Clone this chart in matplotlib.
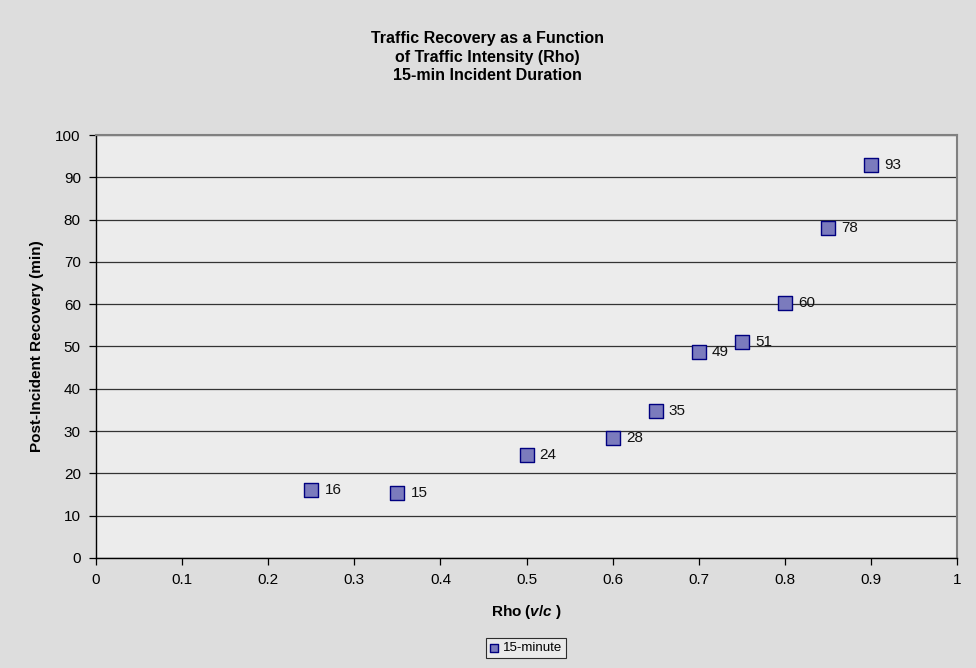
import matplotlib.pyplot as plt

plt.rcParams["font.family"] = ["Liberation Sans", "DejaVu Sans"]
plt.rcParams["mathtext.fontset"] = "custom"
plt.rcParams["mathtext.it"] = "Liberation Sans:italic:bold"
plt.rcParams["mathtext.rm"] = "Liberation Sans:bold"

rho = [0.25, 0.35, 0.5, 0.6, 0.65, 0.7, 0.75, 0.8, 0.85, 0.9]
recovery = [16.1, 15.4, 24.3, 28.4, 34.8, 48.7, 51.1, 60.4, 78.0, 92.8]
x_ticks = [0, 0.1, 0.2, 0.3, 0.4, 0.5, 0.6, 0.7, 0.8, 0.9, 1]
y_ticks = list(range(0, 101, 10))

fig = plt.figure(figsize=(9.76, 6.68), dpi=100)
fig.patch.set_facecolor("#dddddd")
ax = fig.add_axes([0.0984, 0.1647, 0.8822, 0.6332])
ax.set_facecolor("#ececec")

ax.scatter(rho, recovery, marker="s", s=100, facecolor="#7b7bbd",
           edgecolor="#000080", linewidth=1.0, zorder=3, label="15-minute")
for x, y in zip(rho, recovery):
    ax.annotate(f"{y:.0f}", (x, y), xytext=(9.5, 0), textcoords="offset points",
                va="center", ha="left", fontsize=11, color="#111111")

ax.set_xlim(0, 1)
ax.set_ylim(0, 100)
ax.set_xticks(x_ticks)
ax.set_xticklabels([f"{t:g}" for t in x_ticks])
ax.set_yticks(y_ticks)
ax.grid(axis="y", color="#333333", linewidth=0.9)
ax.set_axisbelow(True)
ax.tick_params(axis="both", labelsize=11, colors="#000000", length=5, width=0.9, pad=6)

for side in ("top", "right"):
    ax.spines[side].set_color("#808080")
    ax.spines[side].set_linewidth(1.5)
for side in ("left", "bottom"):
    ax.spines[side].set_color("#000000")
    ax.spines[side].set_linewidth(1.0)

ax.set_xlabel(r"Rho ($\mathit{v/c}$ )", fontsize=11, fontweight="bold", labelpad=11)
ax.set_ylabel("Post-Incident Recovery (min)", fontsize=11, fontweight="bold", labelpad=8)

fig.text(0.4995, 0.954, "Traffic Recovery as a Function\nof Traffic Intensity (Rho)\n15-min Incident Duration",
         ha="center", va="top", fontsize=11.5, fontweight="bold", linespacing=1.32)

leg = fig.legend(loc="center", bbox_to_anchor=(0.539, 0.0295), fontsize=9.5,
                 frameon=True, fancybox=False, handlelength=0.7, handletextpad=0.3,
                 borderpad=0.3, markerscale=0.6)
leg.get_frame().set_edgecolor("#000000")
leg.get_frame().set_facecolor("#eeeeee")
leg.get_frame().set_linewidth(0.8)

fig.savefig("out.png", dpi=100, facecolor=fig.get_facecolor())
